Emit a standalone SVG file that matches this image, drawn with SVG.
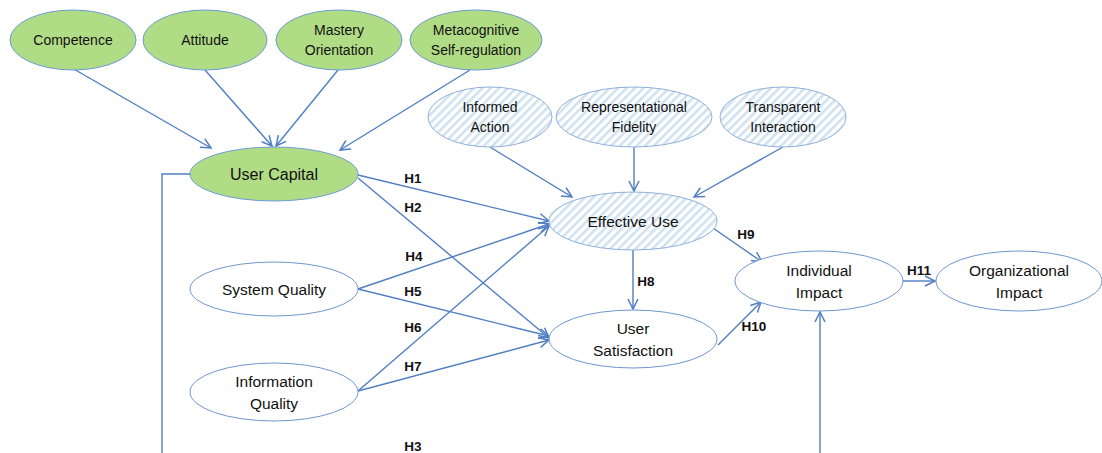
<svg xmlns="http://www.w3.org/2000/svg" width="1102" height="453" viewBox="0 0 1102 453">
  <defs>
    <pattern id="hatch" patternUnits="userSpaceOnUse" width="6" height="6" patternTransform="rotate(45)">
      <rect width="6" height="6" fill="#ffffff"/>
      <rect width="2.6" height="6" fill="#cfe2f0"/>
    </pattern>
    <marker id="arrow" markerUnits="userSpaceOnUse" markerWidth="14" markerHeight="14" refX="11" refY="6" orient="auto">
      <path d="M1,1 L11,6 L1,11" fill="none" stroke="#4f7fc2" stroke-width="1.5"/>
    </marker>
    <style>
      .green { fill: #b1dc86; stroke: #6d9bd3; stroke-width: 1; }
      .hatched { fill: url(#hatch); stroke: #8fb0db; stroke-width: 1; }
      .plain { fill: #ffffff; stroke: #6f96cf; stroke-width: 1; }
      .lbl { font-family: "Liberation Sans", Arial, sans-serif; fill: #111111; text-anchor: middle; }
      .sm { font-size: 14px; }
      .md { font-size: 15.5px; }
      .lg { font-size: 16px; }
      .hyp { font-family: "Liberation Sans", Arial, sans-serif; font-size: 13.5px; font-weight: bold; fill: #111; text-anchor: middle; }
      .edge { fill: none; stroke: #4f7fc2; stroke-width: 1.4; marker-end: url(#arrow); }
    </style>
  </defs>

  <rect width="1102" height="453" fill="#ffffff"/>

  <!-- connectors -->
  <g id="connectors">
    <path class="edge" d="M72,68 L211,148"/>
    <path class="edge" d="M205,70 L272,146"/>
    <path class="edge" d="M338,70 L276,146"/>
    <path class="edge" d="M470,70 L340,150"/>

    <path class="edge" d="M490,147 L572,197"/>
    <path class="edge" d="M634,147 L634,191"/>
    <path class="edge" d="M783,147 L694,197"/>

    <path class="edge" d="M358,175 L549,221"/>
    <path class="edge" d="M358,178 L549,338"/>
    <path class="edge" d="M358,289 L549,224"/>
    <path class="edge" d="M358,289 L549,336"/>
    <path class="edge" d="M358,391 L549,226"/>
    <path class="edge" d="M358,391 L549,340"/>

    <path class="edge" d="M633,250 L633,309"/>
    <path class="edge" d="M713,228 L762,262"/>
    <path class="edge" d="M718,345 L761,302"/>
    <path class="edge" d="M903,281 L935,281"/>

    <path class="edge" d="M190,174 L162,174 L162,456 L820,456 L820,312"/>
  </g>

  <!-- hypothesis labels -->
  <g id="labels">
    <text class="hyp" x="413" y="183">H1</text>
    <text class="hyp" x="413" y="212">H2</text>
    <text class="hyp" x="414" y="261">H4</text>
    <text class="hyp" x="413" y="296">H5</text>
    <text class="hyp" x="413" y="332">H6</text>
    <text class="hyp" x="413" y="371">H7</text>
    <text class="hyp" x="646" y="286">H8</text>
    <text class="hyp" x="746" y="239">H9</text>
    <text class="hyp" x="754" y="331">H10</text>
    <text class="hyp" x="919" y="275">H11</text>
    <text class="hyp" x="413" y="451">H3</text>
  </g>

  <!-- antecedents of user capital -->
  <g id="competence">
    <ellipse class="green" cx="73" cy="40" rx="63" ry="30"/>
    <text class="lbl sm" x="73" y="45">Competence</text>
  </g>
  <g id="attitude">
    <ellipse class="green" cx="205" cy="40" rx="62" ry="30"/>
    <text class="lbl sm" x="205" y="45">Attitude</text>
  </g>
  <g id="mastery-orientation">
    <ellipse class="green" cx="339" cy="40" rx="63" ry="30"/>
    <text class="lbl sm" x="339" y="35">Mastery</text>
    <text class="lbl sm" x="339" y="55">Orientation</text>
  </g>
  <g id="metacognitive-self-regulation">
    <ellipse class="green" cx="476" cy="40" rx="66" ry="30"/>
    <text class="lbl sm" x="476" y="35">Metacognitive</text>
    <text class="lbl sm" x="476" y="55">Self-regulation</text>
  </g>

  <g id="user-capital">
    <ellipse class="green" cx="274" cy="174" rx="84" ry="27"/>
    <text class="lbl lg" x="274" y="180">User Capital</text>
  </g>

  <!-- antecedents of effective use -->
  <g id="informed-action">
    <ellipse class="hatched" cx="490" cy="117" rx="62" ry="30"/>
    <text class="lbl sm" x="490" y="112">Informed</text>
    <text class="lbl sm" x="490" y="132">Action</text>
  </g>
  <g id="representational-fidelity">
    <ellipse class="hatched" cx="634" cy="117" rx="78" ry="30"/>
    <text class="lbl sm" x="634" y="112">Representational</text>
    <text class="lbl sm" x="634" y="132">Fidelity</text>
  </g>
  <g id="transparent-interaction">
    <ellipse class="hatched" cx="783" cy="117" rx="63" ry="30"/>
    <text class="lbl sm" x="783" y="112">Transparent</text>
    <text class="lbl sm" x="783" y="132">Interaction</text>
  </g>

  <g id="effective-use">
    <ellipse class="hatched" cx="633" cy="221" rx="84" ry="29"/>
    <text class="lbl md" x="633" y="227">Effective Use</text>
  </g>

  <g id="system-quality">
    <ellipse class="plain" cx="274" cy="289" rx="84" ry="27"/>
    <text class="lbl md" x="274" y="295">System Quality</text>
  </g>
  <g id="information-quality">
    <ellipse class="plain" cx="274" cy="392" rx="84" ry="29"/>
    <text class="lbl md" x="274" y="387">Information</text>
    <text class="lbl md" x="274" y="409">Quality</text>
  </g>

  <g id="user-satisfaction">
    <ellipse class="plain" cx="633" cy="339" rx="84" ry="29"/>
    <text class="lbl md" x="633" y="334">User</text>
    <text class="lbl md" x="633" y="356">Satisfaction</text>
  </g>

  <g id="individual-impact">
    <ellipse class="plain" cx="819" cy="281" rx="84" ry="30"/>
    <text class="lbl md" x="819" y="276">Individual</text>
    <text class="lbl md" x="819" y="298">Impact</text>
  </g>
  <g id="organizational-impact">
    <ellipse class="plain" cx="1019" cy="281" rx="83" ry="30"/>
    <text class="lbl md" x="1019" y="276">Organizational</text>
    <text class="lbl md" x="1019" y="298">Impact</text>
  </g>
</svg>
